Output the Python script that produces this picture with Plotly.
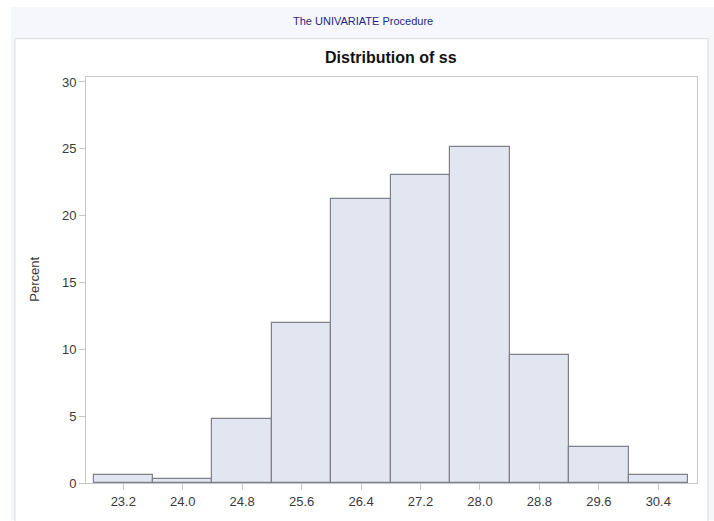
import plotly.graph_objects as go

# Histogram of ss: bin midpoints (width 0.8) and percent of observations
bin_mid = [23.2, 24.0, 24.8, 25.6, 26.4, 27.2, 28.0, 28.8, 29.6, 30.4]
percent = [0.57, 0.28, 4.79, 11.95, 21.27, 23.05, 25.12, 9.60, 2.67, 0.57]
bin_width = 0.8
x_ticks = [23.2, 24.0, 24.8, 25.6, 26.4, 27.2, 28.0, 28.8, 29.6, 30.4]
x_tick_text = ["23.2", "24.0", "24.8", "25.6", "26.4", "27.2", "28.0", "28.8", "29.6", "30.4"]
y_ticks = [0, 5, 10, 15, 20, 25, 30]

W, H = 714, 521
L, R, T, B = 86, 697, 76.7, 492  # plot area in pixels

def px(x):
    return (x - L) / (R - L)

def py(y):
    return (B - y) / (B - T)

FONT = "Liberation Sans, Arial, sans-serif"
AXIS_COLOR = "#c3c6cc"
TEXT_COLOR = "#3a3a3a"

fig = go.Figure(
    go.Bar(
        x=bin_mid,
        y=percent,
        width=bin_width,
        marker=dict(color="#e1e6f0", line=dict(color="#7e8187", width=1.2)),
        hoverinfo="x+y",
    )
)

axis_common = dict(
    showline=True,
    linecolor=AXIS_COLOR,
    linewidth=1,
    mirror=True,
    showgrid=False,
    zeroline=False,
    ticks="outside",
    ticklen=6,
    tickwidth=1,
    tickcolor=AXIS_COLOR,
    tickfont=dict(family=FONT, size=13, color=TEXT_COLOR),
)

fig.update_xaxes(
    range=[22.698, 30.921],
    tickvals=x_ticks,
    ticktext=x_tick_text,
    **axis_common,
)
fig.update_yaxes(
    range=[0, 30.37],
    tickvals=y_ticks,
    **axis_common,
)

shapes = [
    # page header band / background
    dict(type="rect", xref="paper", yref="paper", layer="below",
         x0=px(11), x1=px(714), y0=py(5), y1=py(530),
         fillcolor="#f5f7fc", line=dict(width=0)),
    # white output panel
    dict(type="rect", xref="paper", yref="paper", layer="below",
         x0=px(15), x1=px(708), y0=py(37.5), y1=py(540),
         fillcolor="white", line=dict(color="#dcdde0", width=1)),
]

annotations = [
    dict(text="The UNIVARIATE Procedure", xref="paper", yref="paper",
         x=px(362.5), y=py(19), xanchor="center", yanchor="middle", showarrow=False,
         font=dict(family=FONT, size=11, color="#1f2a80")),
    dict(text="<b>Distribution of ss</b>", xref="paper", yref="paper",
         x=px(391), y=py(57), xanchor="center", yanchor="middle", showarrow=False,
         font=dict(family=FONT, size=16, color="#111111")),
    dict(text="Percent", xref="paper", yref="paper",
         x=px(35), y=py(284), xanchor="center", yanchor="middle", showarrow=False,
         textangle=-90, font=dict(family=FONT, size=13, color=TEXT_COLOR)),
]

fig.update_layout(
    width=W,
    height=H,
    margin=dict(l=L, r=W - R, t=T, b=H - B, pad=0),
    paper_bgcolor="white",
    plot_bgcolor="white",
    showlegend=False,
    bargap=0,
    shapes=shapes,
    annotations=annotations,
)

fig.write_html("out.html")
